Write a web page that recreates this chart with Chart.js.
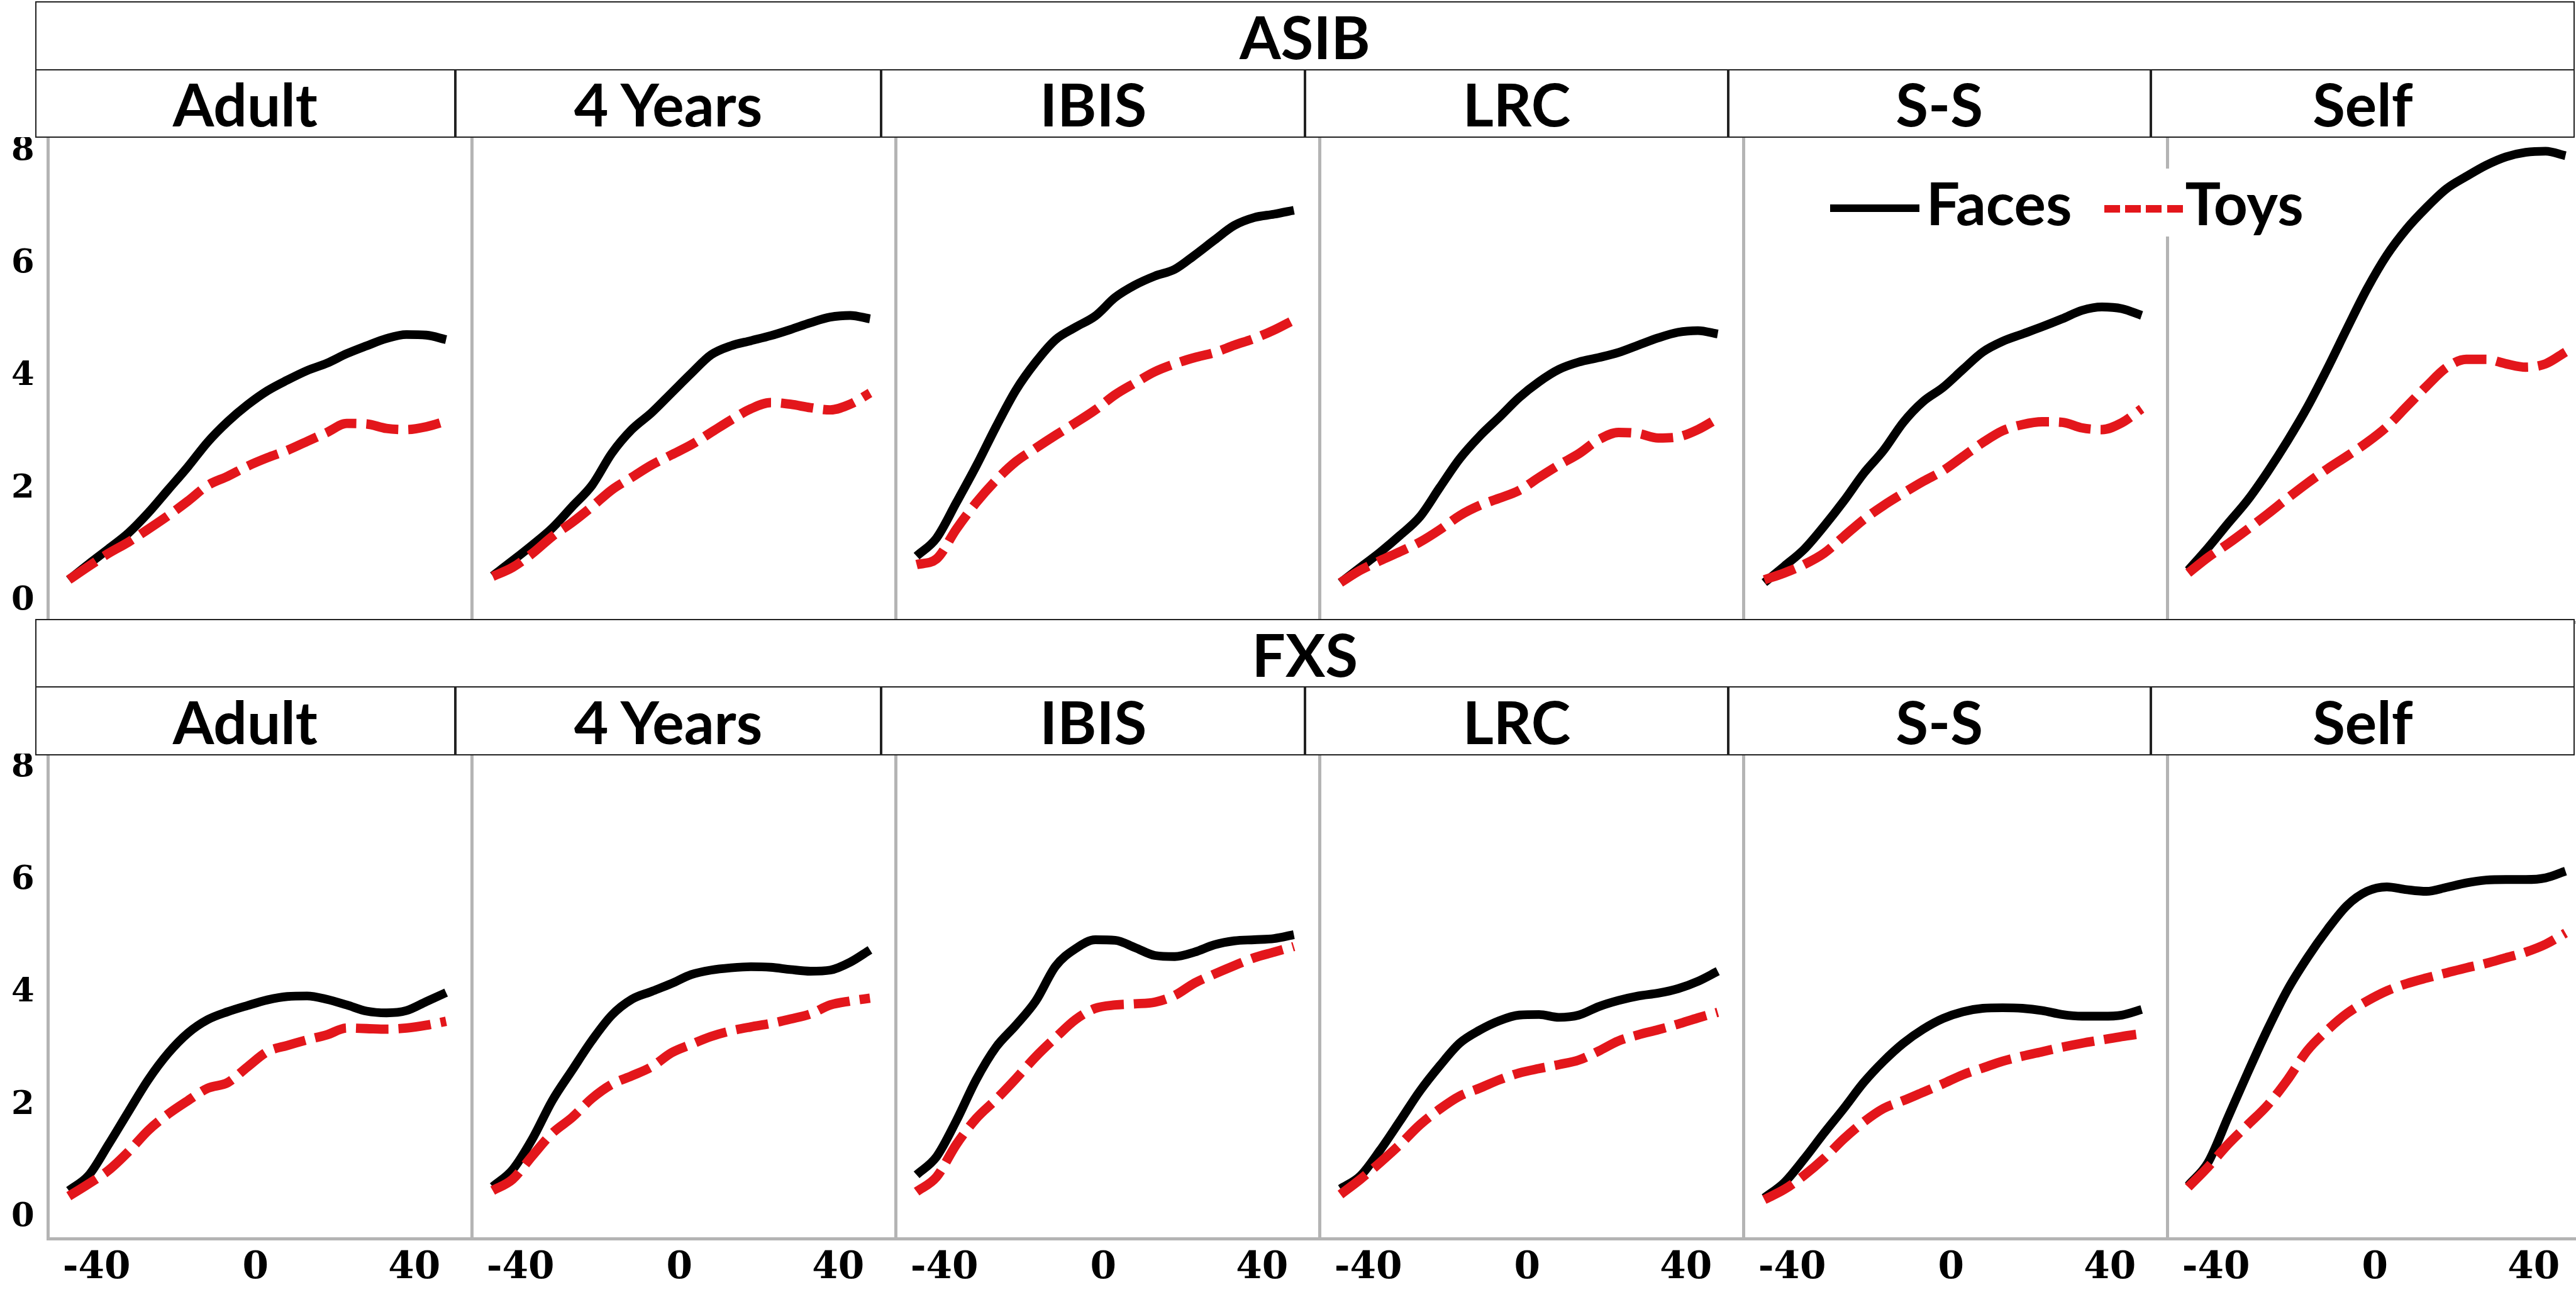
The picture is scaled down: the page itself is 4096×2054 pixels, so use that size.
<!DOCTYPE html>
<html>
<head>
<meta charset="utf-8">
<script src="https://cdn.jsdelivr.net/npm/chart.js@4.4.1/dist/chart.umd.min.js"></script>
<style>
    html, body { margin: 0; padding: 0; background: #fff; overflow: hidden; }
    #stage { position: relative; width: 4096px; height: 2054px; overflow: hidden; background: #fff; }
    .hdr { position: absolute; box-sizing: border-box; background: #fff; display: flex;
           align-items: center; justify-content: center; font-family: Lato, "Open Sans", sans-serif;
           font-weight: 700; color: #000; z-index: 5; white-space: nowrap; }
    .leg { position: absolute; font-family: Lato, "Open Sans", sans-serif; font-weight: 700;
           color: #000; white-space: nowrap; line-height: 1; z-index: 7; }
</style>
</head>
<body>
<div id="stage"></div>
<script>
// ---- data ----
const groups = ['ASIB', 'FXS'];
const sources = ['Adult', '4 Years', 'IBIS', 'LRC', 'S-S', 'Self'];
const times = [-47, -42, -37, -32, -27, -22, -17, -12, -7, -2, 3, 8, 13, 18, 23, 28, 33, 38, 43, 48];
const xTicks = [-40, 0, 40];
const yTicks = [0, 2, 4, 6, 8];

const asibAdultFaces = [0.38, 0.66, 0.93, 1.21, 1.57, 1.98, 2.39, 2.83, 3.19, 3.49, 3.74, 3.93, 4.10, 4.23, 4.40, 4.54, 4.67, 4.74, 4.73, 4.65];
const asibAdultToys  = [0.38, 0.62, 0.85, 1.05, 1.28, 1.52, 1.78, 2.06, 2.22, 2.40, 2.55, 2.68, 2.84, 3.00, 3.16, 3.15, 3.07, 3.05, 3.10, 3.20];
const asib4yFaces    = [0.45, 0.72, 1.00, 1.30, 1.68, 2.06, 2.63, 3.05, 3.35, 3.70, 4.05, 4.38, 4.54, 4.63, 4.72, 4.83, 4.95, 5.05, 5.08, 5.02];
const asib4yToys     = [0.44, 0.60, 0.85, 1.15, 1.40, 1.68, 1.98, 2.20, 2.42, 2.60, 2.78, 3.00, 3.22, 3.42, 3.53, 3.50, 3.44, 3.40, 3.50, 3.70];
const asibIbisFaces  = [0.80, 1.12, 1.75, 2.40, 3.10, 3.75, 4.25, 4.65, 4.87, 5.07, 5.40, 5.62, 5.78, 5.90, 6.15, 6.42, 6.68, 6.82, 6.88, 6.95];
const asibIbisToys   = [0.65, 0.75, 1.28, 1.75, 2.15, 2.48, 2.72, 2.95, 3.17, 3.40, 3.67, 3.88, 4.08, 4.22, 4.33, 4.42, 4.55, 4.67, 4.82, 5.00];
const asibLrcFaces   = [0.33, 0.60, 0.87, 1.17, 1.50, 2.02, 2.53, 2.93, 3.27, 3.62, 3.90, 4.12, 4.25, 4.33, 4.42, 4.55, 4.68, 4.78, 4.81, 4.75];
const asibLrcToys    = [0.33, 0.55, 0.72, 0.88, 1.05, 1.27, 1.52, 1.70, 1.83, 1.97, 2.20, 2.42, 2.62, 2.87, 3.00, 2.98, 2.90, 2.92, 3.05, 3.25];
const asibSsFaces    = [0.33, 0.62, 0.92, 1.33, 1.78, 2.27, 2.68, 3.18, 3.55, 3.80, 4.12, 4.43, 4.62, 4.75, 4.88, 5.02, 5.17, 5.23, 5.20, 5.08];
const asibSsToys     = [0.38, 0.50, 0.65, 0.85, 1.15, 1.45, 1.70, 1.92, 2.13, 2.32, 2.57, 2.82, 3.03, 3.14, 3.19, 3.18, 3.08, 3.05, 3.17, 3.42];
const asibSelfFaces  = [0.55, 0.95, 1.38, 1.80, 2.30, 2.85, 3.45, 4.13, 4.85, 5.55, 6.15, 6.62, 7.00, 7.33, 7.55, 7.75, 7.90, 7.98, 8.00, 7.92];
const asibSelfToys   = [0.50, 0.78, 1.02, 1.28, 1.55, 1.83, 2.10, 2.35, 2.58, 2.82, 3.10, 3.46, 3.82, 4.15, 4.30, 4.30, 4.22, 4.16, 4.22, 4.43];

const fxsAdultFaces = [0.48, 0.75, 1.30, 1.88, 2.45, 2.92, 3.28, 3.52, 3.66, 3.77, 3.87, 3.93, 3.94, 3.88, 3.78, 3.67, 3.64, 3.68, 3.84, 4.00];
const fxsAdultToys  = [0.38, 0.60, 0.84, 1.17, 1.55, 1.84, 2.08, 2.30, 2.40, 2.68, 2.95, 3.06, 3.16, 3.25, 3.37, 3.36, 3.35, 3.37, 3.42, 3.49];
const fxs4yFaces    = [0.55, 0.85, 1.40, 2.08, 2.62, 3.15, 3.60, 3.88, 4.02, 4.16, 4.32, 4.40, 4.44, 4.46, 4.45, 4.41, 4.38, 4.40, 4.54, 4.76];
const fxs4yToys     = [0.48, 0.68, 1.10, 1.50, 1.78, 2.12, 2.37, 2.52, 2.68, 2.93, 3.08, 3.22, 3.32, 3.39, 3.45, 3.53, 3.62, 3.78, 3.85, 3.90];
const fxsIbisFaces  = [0.76, 1.08, 1.72, 2.45, 3.03, 3.42, 3.85, 4.47, 4.78, 4.94, 4.93, 4.80, 4.66, 4.64, 4.72, 4.85, 4.92, 4.94, 4.96, 5.03];
const fxsIbisToys   = [0.46, 0.72, 1.30, 1.76, 2.10, 2.47, 2.86, 3.20, 3.52, 3.72, 3.78, 3.80, 3.83, 3.95, 4.17, 4.33, 4.48, 4.62, 4.72, 4.82];
const fxsLrcFaces   = [0.51, 0.74, 1.20, 1.72, 2.25, 2.70, 3.10, 3.33, 3.50, 3.60, 3.61, 3.56, 3.60, 3.75, 3.86, 3.94, 3.99, 4.07, 4.20, 4.38];
const fxsLrcToys    = [0.41, 0.68, 0.98, 1.30, 1.65, 1.93, 2.16, 2.30, 2.45, 2.57, 2.65, 2.72, 2.80, 2.96, 3.14, 3.25, 3.34, 3.44, 3.55, 3.65];
const fxsSsFaces    = [0.35, 0.62, 1.04, 1.50, 1.94, 2.40, 2.78, 3.10, 3.35, 3.54, 3.66, 3.72, 3.73, 3.72, 3.68, 3.61, 3.58, 3.58, 3.60, 3.70];
const fxsSsToys     = [0.32, 0.50, 0.75, 1.05, 1.40, 1.70, 1.94, 2.08, 2.23, 2.38, 2.54, 2.66, 2.78, 2.87, 2.95, 3.03, 3.10, 3.16, 3.22, 3.27];
const fxsSelfFaces  = [0.57, 0.98, 1.78, 2.58, 3.35, 4.05, 4.62, 5.12, 5.55, 5.80, 5.88, 5.83, 5.80, 5.87, 5.95, 6.00, 6.01, 6.01, 6.04, 6.16];
const fxsSelfToys   = [0.54, 0.90, 1.30, 1.65, 2.00, 2.45, 2.97, 3.33, 3.63, 3.85, 4.03, 4.16, 4.26, 4.35, 4.44, 4.52, 4.62, 4.72, 4.86, 5.06];

const facesByGroup = [
    [asibAdultFaces, asib4yFaces, asibIbisFaces, asibLrcFaces, asibSsFaces, asibSelfFaces],
    [fxsAdultFaces, fxs4yFaces, fxsIbisFaces, fxsLrcFaces, fxsSsFaces, fxsSelfFaces]
];
const toysByGroup = [
    [asibAdultToys, asib4yToys, asibIbisToys, asibLrcToys, asibSsToys, asibSelfToys],
    [fxsAdultToys, fxs4yToys, fxsIbisToys, fxsLrcToys, fxsSsToys, fxsSelfToys]
];

// ---- layout (reference pixels, scaled by S) ----
const S = 4096 / 4119;
const RED = '#e3161b';
const AXIS_GRAY = '#b4b4b4';
const colEdges = [56, 728, 1409, 2087, 2763, 3439, 4117];
const headerTops = [2.5, 989.5];
const axisX0 = 77, panelW = 677.8;
const plotTops = [219, 1205], plotH = 776;
const yAxisW = 70, xAxisH = 85;

const stage = document.getElementById('stage');

function box(cls, x, y, w, h, css) {
    const d = document.createElement('div');
    d.className = cls;
    d.style.left = (x * S) + 'px';
    d.style.top = (y * S) + 'px';
    if (w != null) d.style.width = (w * S) + 'px';
    if (h != null) d.style.height = (h * S) + 'px';
    if (css) d.style.cssText += css;
    stage.appendChild(d);
    return d;
}

// header boxes (group row + source row)
groups.forEach((g, r) => {
    const top = headerTops[r];
    const gb = box('hdr', colEdges[0], top, colEdges[6] - colEdges[0], 111,
        `border:${3 * S}px solid #222;font-size:${95 * S}px;`);
    gb.textContent = g;
    sources.forEach((s, c) => {
        const cb = box('hdr', colEdges[c], top + 108, colEdges[c + 1] - colEdges[c], 110,
            `border:${2.6 * S}px solid #222;font-size:${95 * S}px;`);
        cb.textContent = s;
    });
});

// legend
box('leg', 2900, 270, 800, 108, 'background:#fff;z-index:6;');
box('leg', 2926, 327, 143, 12, 'background:#000;');
box('leg', 3080, 277, null, null, `font-size:${95 * S}px;`).textContent = 'Faces';
box('leg', 3365, 328, 125, 12,
    `background:repeating-linear-gradient(to right, ${RED} 0 ${25 * S}px, transparent ${25 * S}px ${33.4 * S}px);`);
box('leg', 3494, 277, null, null, `font-size:${95 * S}px;`).textContent = 'Toys';

// ---- charts ----
const xTickFont = { family: '"DejaVu Serif", serif', weight: 'bold', size: 60 * S };
const yTickFont = { family: '"DejaVu Serif", serif', weight: 'bold', size: 53 * S };

function points(arr) {
    return times.map((t, i) => ({ x: t, y: arr[i] }));
}

groups.forEach((g, r) => {
    sources.forEach((s, c) => {
        const left = Math.round((axisX0 + panelW * c - yAxisW) * S);
        const top = Math.round(plotTops[r] * S);
        const canvas = document.createElement('canvas');
        canvas.width = Math.round((panelW + yAxisW) * S);
        canvas.height = Math.round((plotH + xAxisH) * S);
        canvas.style.cssText = `position:absolute;left:${left}px;top:${top}px;z-index:1;`;
        stage.appendChild(canvas);

        new Chart(canvas, {
            type: 'line',
            data: {
                datasets: [{
                    label: 'Toys',
                    data: points(toysByGroup[r][c]),
                    borderColor: RED,
                    borderWidth: 15 * S,
                    borderDash: [52 * S, 16 * S],
                    borderCapStyle: 'butt',
                    pointRadius: 0,
                    cubicInterpolationMode: 'monotone',
                    fill: false
                }, {
                    label: 'Faces',
                    data: points(facesByGroup[r][c]),
                    borderColor: '#000',
                    borderWidth: 14 * S,
                    pointRadius: 0,
                    cubicInterpolationMode: 'monotone',
                    fill: false
                }]
            },
            options: {
                responsive: false,
                animation: false,
                devicePixelRatio: 1,
                events: [],
                layout: { padding: 0 },
                plugins: { legend: { display: false }, tooltip: { enabled: false } },
                scales: {
                    x: {
                        type: 'linear',
                        min: -52.2,
                        max: 54.6,
                        grid: { display: false, drawTicks: false },
                        border: { display: true, color: AXIS_GRAY, width: 5 * S },
                        ticks: { display: r === 1, padding: 11 * S, font: xTickFont, color: '#000', maxRotation: 0, autoSkip: false },
                        afterBuildTicks: sc => { sc.ticks = xTicks.map(v => ({ value: v })); },
                        afterFit: sc => { sc.height = xAxisH * S; sc.paddingLeft = 0; sc.paddingRight = 0; }
                    },
                    y: {
                        type: 'linear',
                        min: -0.378,
                        max: 8.25,
                        grid: { display: false, drawTicks: false },
                        border: { display: true, color: AXIS_GRAY, width: 5 * S },
                        ticks: { display: c === 0, padding: 22 * S, font: yTickFont, color: '#000' },
                        afterBuildTicks: sc => { sc.ticks = yTicks.map(v => ({ value: v })); },
                        afterFit: sc => { sc.width = yAxisW * S; sc.paddingTop = 0; sc.paddingBottom = 0; }
                    }
                }
            }
        });
    });
});
</script>
</body>
</html>
